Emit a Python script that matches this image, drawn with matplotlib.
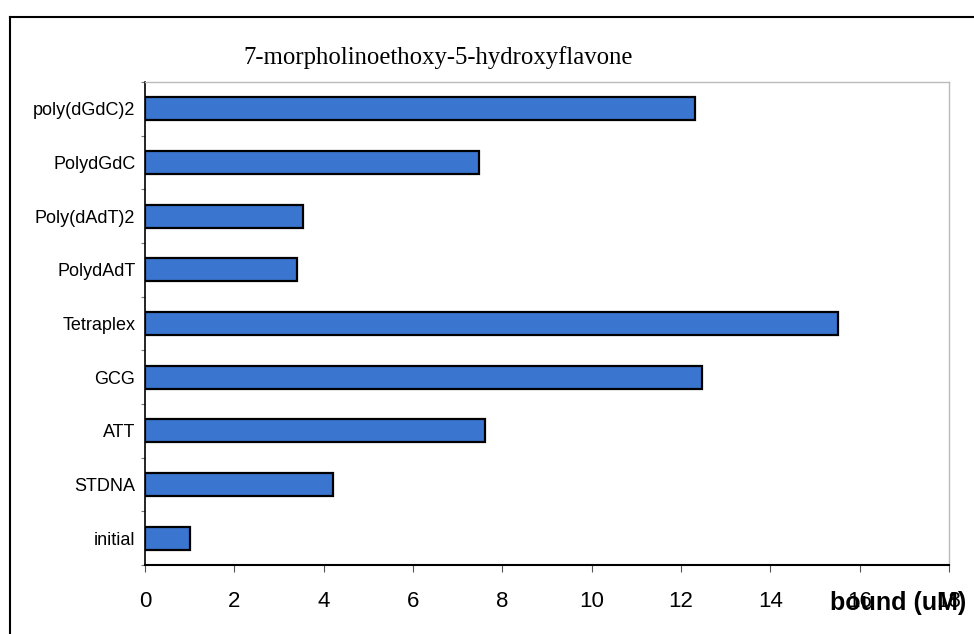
import matplotlib
matplotlib.use("Agg")
import matplotlib.pyplot as plt
from matplotlib.lines import Line2D

# 数据
categories = ["initial", "STDNA", "ATT", "GCG", "Tetraplex",
              "PolydAdT", "Poly(dAdT)2", "PolydGdC", "poly(dGdC)2"]
bound_values = [1.01, 4.22, 7.62, 12.47, 15.52, 3.41, 3.54, 7.47, 12.31]
x_ticks = [0, 2, 4, 6, 8, 10, 12, 14, 16, 18]

W, H = 974, 634
fig = plt.figure(figsize=(W / 100, H / 100), dpi=100)
ax = fig.add_axes([145 / W, 1 - 565 / H, (949 - 145) / W, (565 - 82) / H])

sans = ["Liberation Sans", "DejaVu Sans"]

ypos = list(range(len(categories)))
ax.barh(ypos, bound_values, height=0.43, color="#3a76cf",
        edgecolor="black", linewidth=1.6)

ax.set_xlim(0, 18)
ax.set_ylim(-0.5, len(categories) - 0.5)
ax.set_xticks(x_ticks)
ax.set_xticklabels([str(t) for t in x_ticks], family=sans, fontsize=16)
ax.set_yticks(ypos)
ax.set_yticklabels(categories, family=sans, fontsize=13)
ax.tick_params(axis="y", length=0, pad=7)
ax.tick_params(axis="x", length=5, width=0.8, pad=14, color="#555555")
# 类别之间的小刻度
ax.set_yticks([i + 0.5 for i in range(-1, len(categories))], minor=True)
ax.tick_params(axis="y", which="minor", length=3, width=0.8, color="#777777")

for s in ["top", "right"]:
    ax.spines[s].set_color("#bbbbbb")
    ax.spines[s].set_linewidth(1.0)
ax.spines["left"].set_color("black")
ax.spines["left"].set_linewidth(1.2)
ax.spines["bottom"].set_color("black")
ax.spines["bottom"].set_linewidth(1.5)

fig.text(438 / W, 1 - 58 / H, "7-morpholinoethoxy-5-hydroxyflavone",
         family="Liberation Serif", fontsize=17.8, ha="center", va="center")
fig.text(966 / W, 1 - 603 / H, "bound (uM)", family=sans,
         fontsize=18, fontweight="bold", ha="right", va="center")

# 外框
fig.add_artist(Line2D([10 / W, 10 / W], [0, 1 - 17 / H], color="black", lw=1.5))
fig.add_artist(Line2D([10 / W, 1], [1 - 17 / H, 1 - 17 / H], color="black", lw=1.5))

fig.savefig("out.png", dpi=100)
